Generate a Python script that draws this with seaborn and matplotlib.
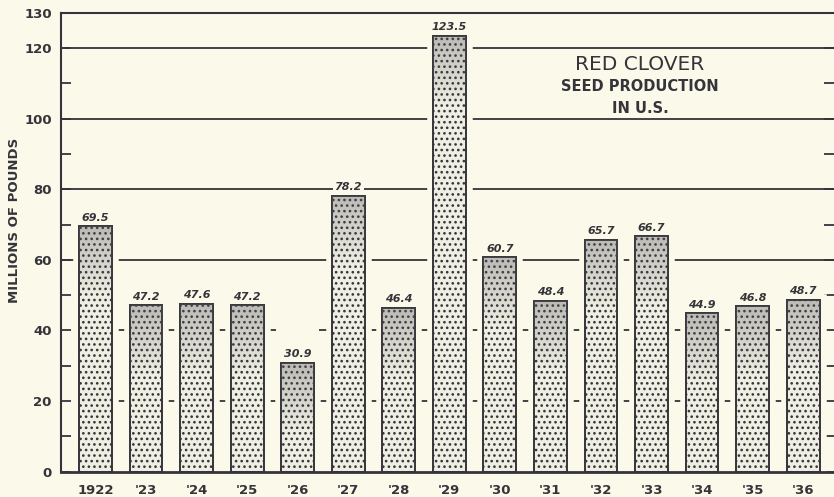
import numpy as np
import seaborn as sns
import matplotlib.pyplot as plt
import matplotlib.patheffects as pe
from matplotlib.colors import LinearSegmentedColormap

years = ["1922", "'23", "'24", "'25", "'26", "'27", "'28", "'29",
         "'30", "'31", "'32", "'33", "'34", "'35", "'36"]
production = [69.5, 47.2, 47.6, 47.2, 30.9, 78.2, 46.4, 123.5,
              60.7, 48.4, 65.7, 66.7, 44.9, 46.8, 48.7]
value_labels = ["69.5", "47.2", "47.6", "47.2", "30.9", "78.2", "46.4", "123.5",
                "60.7", "48.4", "65.7", "66.7", "44.9", "46.8", "48.7"]
y_ticks = [0, 20, 40, 60, 80, 100, 120, 130]
solid_grid = [60, 80, 100, 120]
dash_grid = [20, 40]

bg = "#faf9ea"
ink = "#34343a"

sns.set_style("ticks")
plt.rcParams['font.family'] = ['DejaVu Sans']
plt.rcParams['hatch.color'] = "#6a6a70"
plt.rcParams['hatch.linewidth'] = 1.1

fig = plt.figure(figsize=(8.34, 4.97), dpi=100, facecolor=bg)
ax = fig.add_axes([0.0737, 0.0509, 0.9263, 0.9235])
ax.set_facecolor(bg)

sns.barplot(x=years, y=production, color="#efeee2", saturation=1, width=0.65,
            edgecolor=ink, linewidth=1.4, hatch="...", ax=ax, zorder=2)

bars = list(ax.patches)
for b in bars:
    b.set_path_effects([pe.Stroke(linewidth=9, foreground=bg), pe.Normal()])

# darker shading at the top of each bar
shade = LinearSegmentedColormap.from_list(
    "shade", [(0.35, 0.35, 0.38, 0.0), (0.35, 0.35, 0.38, 0.35)])
grad = np.linspace(1, 0, 64).reshape(-1, 1)
for b in bars:
    x0, w, h = b.get_x(), b.get_width(), b.get_height()
    d = min(h, 20)
    im = ax.imshow(grad, extent=[x0, x0 + w, h - d, h], aspect='auto',
                   cmap=shade, vmin=0, vmax=1, zorder=2.1, interpolation='bilinear')
    im.set_clip_path(b)

# grid lines: solid above 60, short dashes in the gaps below
for y in solid_grid:
    ax.axhline(y, color=ink, lw=1.3, zorder=1)
for y in dash_grid:
    for i in range(len(years) - 1):
        ax.hlines(y, i + 0.42, i + 0.58, color=ink, lw=1.3, zorder=1)

for i, (v, t) in enumerate(zip(production, value_labels)):
    ax.text(i, v + 1.0, t, ha='center', va='bottom', fontsize=8,
            style='italic', fontweight='bold', color=ink, zorder=4,
            bbox=dict(boxstyle='square,pad=0.15', fc=bg, ec='none'))

ax.set_xlim(-0.673, 14.61)
ax.set_ylim(0, 130)
ax.set_yticks(y_ticks)
ax.set_yticks(range(10, 120, 20), minor=True)
ax.tick_params(axis='y', which='both', direction='in', length=7.5, width=1.3,
               color=ink, right=True, labelright=False, pad=7,
               labelsize=9.5, labelcolor=ink)
ax.tick_params(axis='x', length=0, pad=9, labelsize=9.5, labelcolor=ink)
for lab in ax.get_xticklabels() + ax.get_yticklabels():
    lab.set_fontweight('bold')

ax.set_xlabel("")
ax.set_ylabel("MILLIONS OF POUNDS", fontsize=9.5, fontweight='bold', color=ink)
ax.yaxis.set_label_coords(-0.052, 0.548)

for side in ['left', 'top', 'bottom']:
    ax.spines[side].set_color(ink)
    ax.spines[side].set_zorder(5)
ax.spines['left'].set_linewidth(1.5)
ax.spines['top'].set_linewidth(1.5)
ax.spines['bottom'].set_linewidth(2)
ax.spines['right'].set_visible(False)

ax.text(0.749, 0.888, "RED CLOVER", transform=ax.transAxes, ha='center',
        va='center', fontsize=14.5, color=ink)
ax.text(0.749, 0.840, "SEED PRODUCTION", transform=ax.transAxes, ha='center',
        va='center', fontsize=10.5, fontweight='bold', color=ink)
ax.text(0.749, 0.792, "IN U.S.", transform=ax.transAxes, ha='center',
        va='center', fontsize=10.5, fontweight='bold', color=ink)

fig.savefig("out.png", dpi=100, facecolor=bg)
